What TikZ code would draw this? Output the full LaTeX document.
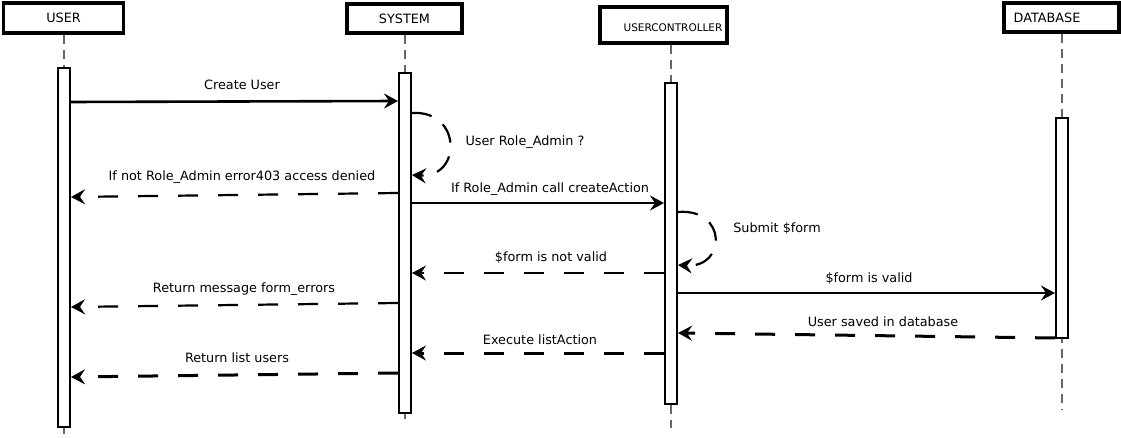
\documentclass[tikz,border=0pt]{standalone}
\usepackage{fontspec}
\setmainfont{DejaVu Sans}
\usetikzlibrary{arrows.meta}
\begin{document}
\begin{tikzpicture}[x=1pt,y=-1pt,
 head/.style={draw,line width=3.2pt,fill=white,inner sep=0pt,font=\fontsize{12.8}{15}\selectfont},
 act/.style={draw,line width=2pt,fill=white,inner sep=0pt,minimum width=12pt},
 life/.style={draw=black!60,line width=1.2pt,dash pattern=on 9pt off 6pt},
 msg/.style={line width=2.6pt,-{Stealth[length=14pt,width=15pt,inset=5pt]}},
 ret/.style={msg,line width=2.2pt,dash pattern=on 20pt off 20pt},
 rett/.style={msg,line width=3pt,dash pattern=on 20pt off 20pt},
 loop/.style={msg,line width=2.2pt,dash pattern=on 20pt off 14pt},
 lbl/.style={font=\fontsize{12.8}{15}\selectfont,inner sep=0pt}
]
\useasboundingbox (0,0) rectangle (1121,438);
% headers
\node[head,minimum width=120pt,minimum height=30pt] (user) at (63.5,18) {USER};
\node[head,minimum width=115pt,minimum height=29pt] (sys) at (404.5,18.5) {SYSTEM};
\node[head,minimum width=127pt,minimum height=36pt] (uc) at (663.5,25) {};
\node[lbl,font=\fontsize{10.5}{12}\selectfont] (ucl) at (673,27.5) {USERCONTROLLER};
\node[head,minimum width=115pt,minimum height=29pt] (db) at (1061.5,17.5) {};
\node[lbl] (dbl) at (1047,17.5) {DATABASE};
% lifeline ends
\coordinate (userE) at (64,438);
\coordinate (sysE) at (405,421);
\coordinate (ucE) at (671,428);
\coordinate (dbE) at (1062,410);
\draw[life] (user.south -| userE) -- (userE);
\draw[life] (sys.south -| sysE) -- (sysE);
\draw[life] (uc.south -| ucE) -- (ucE);
\draw[life] (db.south -| dbE) -- (dbE);
% activations
\node[act,minimum height=359pt] (ua) at (64,247.5) {};
\node[act,minimum height=339.5pt] (sa) at (405,243.25) {};
\node[act,minimum height=321pt] (ca) at (671,243.5) {};
\node[act,minimum height=220pt] (da) at (1062,228) {};
% message end points
\coordinate (m1a) at (ua.east |- 0,102);
\coordinate (m1b) at (sa.west |- 0,101);
\coordinate (l1a) at (sa.east |- 0,113);
\coordinate (l1b) at (sa.east |- 0,175);
\coordinate (m3a) at (sa.west |- 0,193);
\coordinate (m3b) at (ua.east |- 0,197);
\coordinate (m4a) at (sa.east |- 0,203);
\coordinate (m4b) at (ca.west |- 0,203);
\coordinate (l2a) at (ca.east |- 0,212);
\coordinate (l2b) at (ca.east |- 0,265);
\coordinate (m6a) at (ca.west |- 0,273);
\coordinate (m6b) at (sa.east |- 0,273);
\coordinate (m7a) at (sa.west |- 0,303);
\coordinate (m7b) at (ua.east |- 0,307);
\coordinate (m8a) at (ca.east |- 0,293);
\coordinate (m8b) at (da.west |- 0,293);
\coordinate (m9a) at (da.west |- 0,338);
\coordinate (m9b) at (ca.east |- 0,333);
\coordinate (m10a) at (ca.west |- 0,353);
\coordinate (m10b) at (sa.east |- 0,353);
\coordinate (m11a) at (sa.west |- 0,373);
\coordinate (m11b) at (ua.east |- 0,377);
% messages
\draw[msg] (m1a) -- (m1b);
\node[lbl] (t1) at (242,85) {Create User};
\draw[loop] (l1a) .. controls (462,110) and (462,178) .. (l1b);
\node[lbl] (t2) at (525,142.5) {User Role\_Admin ?};
\draw[ret] (m3a) -- (m3b);
\node[lbl] (t3) at (242,177) {If not Role\_Admin error403 access denied};
\draw[msg] (m4a) -- (m4b);
\node[lbl] (t4) at (550,189) {If Role\_Admin call createAction};
\draw[loop] (l2a) .. controls (727,208) and (727,268) .. (l2b);
\node[lbl] (t5) at (777,229) {Submit \$form};
\draw[ret] (m6a) -- (m6b);
\node[lbl] (t6) at (551,258) {\$form is not valid};
\draw[ret] (m7a) -- (m7b);
\node[lbl] (t7) at (244,289) {Return message form\_errors};
\draw[msg] (m8a) -- (m8b);
\node[lbl] (t8) at (869,279) {\$form is valid};
\draw[rett] (m9a) -- (m9b);
\node[lbl] (t9) at (883,321.5) {User saved in database};
\draw[rett] (m10a) -- (m10b);
\node[lbl] (t10) at (540,339.5) {Execute listAction};
\draw[rett] (m11a) -- (m11b);
\node[lbl] (t11) at (237,358) {Return list users};
\end{tikzpicture}
\end{document}
